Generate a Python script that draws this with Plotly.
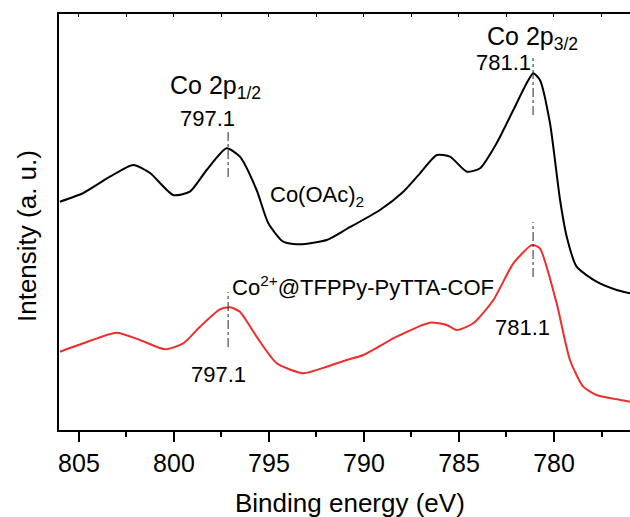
import plotly.graph_objects as go

# ---- data ----
energy_black = [806.0, 804.77, 803.37, 802.14, 801.26, 800.04, 799.16, 798.28, 797.23, 796.53,
                795.65, 795.04, 794.25, 793.37, 791.96, 790.91, 789.16, 787.93, 787.05, 786.17,
                785.47, 784.59, 783.89, 783.02, 782.14, 781.44, 781.09, 780.74, 780.21, 779.68,
                779.33, 778.81, 777.76, 776.7, 776.0]
intensity_black = [228.3, 237, 253.3, 265, 257, 235, 238.3, 260, 281.7, 273.3,
                   240, 207, 188.3, 185.7, 190, 201, 220, 238.3, 256.7, 275,
                   273.3, 258.3, 261.7, 286.7, 320, 346.7, 356.7, 350, 306.7, 230,
                   193.3, 163.3, 148.3, 140, 136.7]

energy_red = [806.0, 804.77, 803.02, 801.79, 800.47, 799.51, 798.63, 797.58, 797.05, 796.53,
              795.65, 794.59, 793.19, 791.96, 790.91, 790.03, 788.28, 786.53, 785.65, 785.12,
              784.25, 783.19, 782.14, 781.26, 781.1, 780.74, 779.86, 779.16, 778.46, 777.76,
              776.7, 776.0]
intensity_red = [78.3, 86.7, 97.3, 90, 80.7, 86.7, 103.3, 120.7, 122.7, 118.3,
                 93.3, 66.7, 56.7, 63.3, 70, 75, 93.3, 107.3, 105, 100,
                 106.7, 130, 166.7, 184, 185, 181.7, 126.7, 70, 43.3, 35,
                 30.7, 28.3]

peak_positions = [797.15, 781.1]
peak_labels = ["797.1", "781.1"]
tick_values = [805, 800, 795, 790, 785, 780]

FONT = "Liberation Sans"
RED = "rgb(240,45,45)"
X_RANGE = [806.05, 776.0]

fig = go.Figure()
fig.add_trace(go.Scatter(x=energy_black, y=intensity_black, mode="lines",
                         line=dict(color="black", width=2, shape="spline", smoothing=0.6),
                         showlegend=False, hoverinfo="skip"))
fig.add_trace(go.Scatter(x=energy_red, y=intensity_red, mode="lines",
                         line=dict(color=RED, width=2, shape="spline", smoothing=0.6),
                         showlegend=False, hoverinfo="skip"))
# invisible trace so that the top (mirror) axis is drawn
fig.add_trace(go.Scatter(x=[790], y=[0], xaxis="x2", yaxis="y", mode="markers",
                         marker=dict(opacity=0, size=1), showlegend=False,
                         hoverinfo="skip"))

# dash-dot peak markers
for x0, y0, y1 in [(peak_positions[0], 253, 298), (peak_positions[1], 315, 372),
                   (peak_positions[1], 153, 208), (peak_positions[0], 83, 138)]:
    fig.add_shape(type="line", xref="x", yref="y", x0=x0, x1=x0, y0=y0, y1=y1,
                  line=dict(color="rgb(40,40,40)", width=1, dash="dashdot"))

ann = [
    dict(x=800.32, y=343, text="Co 2p<sub>1/2</sub>", xanchor="left", size=25),
    dict(x=798.21, y=312, text=peak_labels[0], xanchor="center", size=22),
    dict(x=795.05, y=234, text="Co(OAc)<sub>2</sub>", xanchor="left", size=22),
    dict(x=783.63, y=392, text="Co 2p<sub>3/2</sub>", xanchor="left", size=25),
    dict(x=782.68, y=368, text=peak_labels[1], xanchor="center", size=22),
    dict(x=797.05, y=144, text="Co<sup>2+</sup>@TFPPy-PyTTA-COF", xanchor="left", size=22),
    dict(x=781.68, y=103, text=peak_labels[1], xanchor="center", size=22),
    dict(x=797.63, y=56, text=peak_labels[0], xanchor="center", size=22),
]
for a in ann:
    fig.add_annotation(x=a["x"], y=a["y"], xref="x", yref="y", text=a["text"],
                       showarrow=False, xanchor=a["xanchor"], yanchor="middle",
                       font=dict(family=FONT, size=a["size"], color="black"))

# axis titles
fig.add_annotation(x=(350 - 59) / 571, y=(430 - 503) / 416, xref="paper", yref="paper",
                   text="Binding energy (eV)", showarrow=False, xanchor="center",
                   yanchor="middle", font=dict(family=FONT, size=26, color="black"))
fig.add_annotation(x=(27 - 59) / 571, y=(430 - 236) / 416, xref="paper", yref="paper",
                   text="Intensity (a. u.)", showarrow=False, textangle=-90,
                   xanchor="center", yanchor="middle",
                   font=dict(family=FONT, size=26, color="black"))

fig.update_layout(
    width=630, height=517,
    margin=dict(l=59, r=0, t=14, b=87),
    paper_bgcolor="white", plot_bgcolor="white",
    xaxis=dict(range=X_RANGE, tickvals=tick_values,
               ticks="outside", ticklen=10, tickwidth=2, tickcolor="black",
               minor=dict(dtick=2.5, tick0=780, ticks="outside", ticklen=5,
                          tickwidth=2, tickcolor="black"),
               showline=True, linewidth=2, linecolor="black",
               showgrid=False, zeroline=False,
               tickfont=dict(family=FONT, size=25, color="black")),
    xaxis2=dict(range=X_RANGE, overlaying="x", side="top", anchor="y",
                dtick=2.5, tick0=780, ticks="inside", ticklen=3, tickwidth=1,
                tickcolor="black", showticklabels=False,
                showline=True, linewidth=2, linecolor="black",
                showgrid=False, zeroline=False),
    yaxis=dict(range=[0, 416], showline=True, linewidth=2, linecolor="black",
               ticks="", showticklabels=False, showgrid=False, zeroline=False),
)

fig.write_html("out.html", config={"displayModeBar": False},
               post_script="document.body.style.margin='0';document.body.style.overflow='hidden';")
